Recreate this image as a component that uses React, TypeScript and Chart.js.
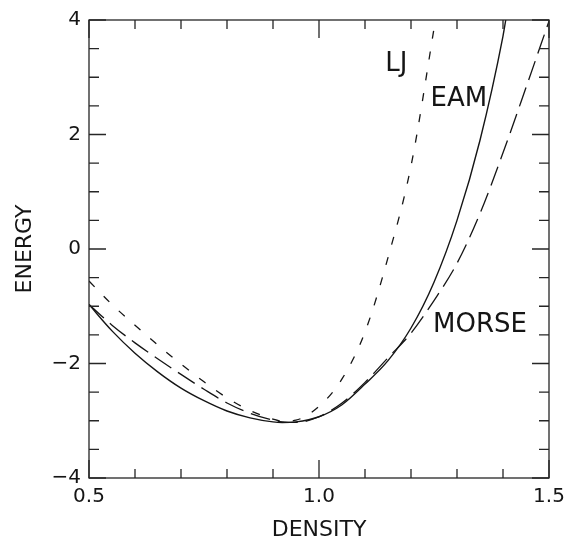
import { useEffect, useRef } from "react";
import { Chart, registerables } from "chart.js";

Chart.register(...registerables);

// Energy vs. density for three interatomic potentials
const densityEAM = [0.5, 0.55, 0.6, 0.65, 0.7, 0.75, 0.8, 0.85, 0.9, 0.92, 0.95, 1.0, 1.05, 1.1, 1.15, 1.2, 1.25, 1.3, 1.35, 1.4, 1.406];
const energyEAM = [-0.97, -1.43, -1.82, -2.15, -2.43, -2.65, -2.83, -2.95, -3.02, -3.03, -3.02, -2.93, -2.72, -2.36, -1.95, -1.38, -0.58, 0.5, 1.9, 3.72, 4.0];

const densityLJ = [0.5, 0.55, 0.6, 0.65, 0.7, 0.75, 0.8, 0.85, 0.9, 0.92, 0.95, 1.0, 1.05, 1.1, 1.15, 1.2, 1.25, 1.253];
const energyLJ = [-0.56, -0.97, -1.33, -1.68, -2.01, -2.32, -2.6, -2.82, -2.97, -3.01, -2.99, -2.75, -2.27, -1.45, -0.15, 1.45, 3.85, 4.0];

const densityMorse = [0.5, 0.55, 0.6, 0.65, 0.7, 0.75, 0.8, 0.85, 0.9, 0.92, 0.95, 1.0, 1.05, 1.1, 1.15, 1.2, 1.25, 1.3, 1.35, 1.4, 1.45, 1.5];
const energyMorse = [-0.97, -1.33, -1.64, -1.92, -2.19, -2.45, -2.69, -2.87, -2.99, -3.02, -3.03, -2.93, -2.69, -2.33, -1.9, -1.47, -0.9, -0.25, 0.62, 1.68, 2.82, 3.98];

// Axis ranges and labelled tick values
const densityRange = [0.5, 1.5];
const energyRange = [-4, 4];
const densityTickStep = 0.5;
const energyTickStep = 2;
const densityMinorStep = 0.1;
const energyMinorStep = 0.5;

// Curve name labels, anchored in data coordinates
const curveLabels = [
  { text: "LJ", density: 1.168, energy: 3.22 },
  { text: "EAM", density: 1.304, energy: 2.62 },
  { text: "MORSE", density: 1.35, energy: -1.34 },
];

const FONT = "'DejaVu Sans', sans-serif";
const INK = "#151515";

const toPoints = (xs: number[], ys: number[]) => xs.map((x, i) => ({ x, y: ys[i] }));

// Frame with inward-pointing ticks on all four sides, plus curve names
const framePlugin = {
  id: "frameTicks",
  afterDatasetsDraw(chart: any) {
    const { ctx, chartArea, scales } = chart;
    const { left, right, top, bottom } = chartArea;
    const xs = scales.x;
    const ys = scales.y;
    ctx.save();
    ctx.strokeStyle = "#262626";
    ctx.lineWidth = 1.3;
    ctx.strokeRect(left, top, right - left, bottom - top);

    ctx.beginPath();
    const nx = Math.round((densityRange[1] - densityRange[0]) / densityMinorStep);
    for (let i = 0; i <= nx; i++) {
      const v = densityRange[0] + i * densityMinorStep;
      const px = xs.getPixelForValue(v);
      const major = i % Math.round(densityTickStep / densityMinorStep) === 0;
      const len = major ? 18 : 9;
      ctx.moveTo(px, bottom);
      ctx.lineTo(px, bottom - len);
      ctx.moveTo(px, top);
      ctx.lineTo(px, top + len);
    }
    const ny = Math.round((energyRange[1] - energyRange[0]) / energyMinorStep);
    for (let i = 0; i <= ny; i++) {
      const v = energyRange[0] + i * energyMinorStep;
      const py = ys.getPixelForValue(v);
      const major = i % Math.round(energyTickStep / energyMinorStep) === 0;
      const len = major ? 17 : 10;
      ctx.moveTo(left, py);
      ctx.lineTo(left + len, py);
      ctx.moveTo(right, py);
      ctx.lineTo(right - len, py);
    }
    ctx.stroke();

    ctx.fillStyle = INK;
    ctx.font = `26px ${FONT}`;
    ctx.textAlign = "center";
    ctx.textBaseline = "middle";
    for (const l of curveLabels) {
      ctx.fillText(l.text, xs.getPixelForValue(l.density), ys.getPixelForValue(l.energy));
    }
    ctx.restore();
  },
};

export default function App() {
  const canvasRef = useRef<HTMLCanvasElement | null>(null);

  useEffect(() => {
    const canvas = canvasRef.current;
    if (!canvas) return;
    const chart = new Chart(canvas, {
      type: "scatter",
      data: {
        datasets: [
          {
            label: "EAM",
            data: toPoints(densityEAM, energyEAM),
            showLine: true,
            borderColor: INK,
            borderWidth: 1.4,
            pointRadius: 0,
            cubicInterpolationMode: "monotone",
          },
          {
            label: "LJ",
            data: toPoints(densityLJ, energyLJ),
            showLine: true,
            borderColor: INK,
            borderWidth: 1.3,
            borderDash: [8, 13],
            pointRadius: 0,
            cubicInterpolationMode: "monotone",
          },
          {
            label: "MORSE",
            data: toPoints(densityMorse, energyMorse),
            showLine: true,
            borderColor: INK,
            borderWidth: 1.3,
            borderDash: [20, 8],
            pointRadius: 0,
            cubicInterpolationMode: "monotone",
          },
        ],
      },
      options: {
        responsive: false,
        animation: false,
        layout: { padding: { left: 0, top: 17, right: 26, bottom: 0 } },
        plugins: {
          legend: { display: false },
          tooltip: { enabled: false },
        },
        scales: {
          x: {
            type: "linear",
            min: densityRange[0],
            max: densityRange[1],
            grid: { display: false, drawTicks: false },
            border: { display: false },
            ticks: {
              stepSize: densityTickStep,
              maxRotation: 0,
              padding: 7,
              color: INK,
              font: { family: FONT, size: 20 },
              callback: (v: any) => Number(v).toFixed(1),
            },
            title: {
              display: true,
              text: "DENSITY",
              color: INK,
              font: { family: FONT, size: 22, lineHeight: 1 },
              padding: { top: 0, bottom: 0 },
            },
            afterFit: (scale: any) => {
              scale.height = 63;
            },
          },
          y: {
            type: "linear",
            min: energyRange[0],
            max: energyRange[1],
            grid: { display: false, drawTicks: false },
            border: { display: false },
            ticks: {
              stepSize: energyTickStep,
              padding: 8,
              color: INK,
              font: { family: FONT, size: 20 },
              callback: (v: any) => (Number(v) < 0 ? "\u2212" + Math.abs(Number(v)) : String(v)),
            },
            title: {
              display: true,
              text: "ENERGY",
              color: INK,
              font: { family: FONT, size: 22, lineHeight: 1 },
              padding: { top: 14, bottom: 0 },
            },
            afterFit: (scale: any) => {
              scale.width = 89;
            },
          },
        },
      },
      plugins: [framePlugin],
    });
    return () => chart.destroy();
  }, []);

  return (
    <div style={{ position: "absolute", left: 0, top: 0, width: 575, height: 541, background: "#fff" }}>
      <canvas ref={canvasRef} width={575} height={541} />
    </div>
  );
}
